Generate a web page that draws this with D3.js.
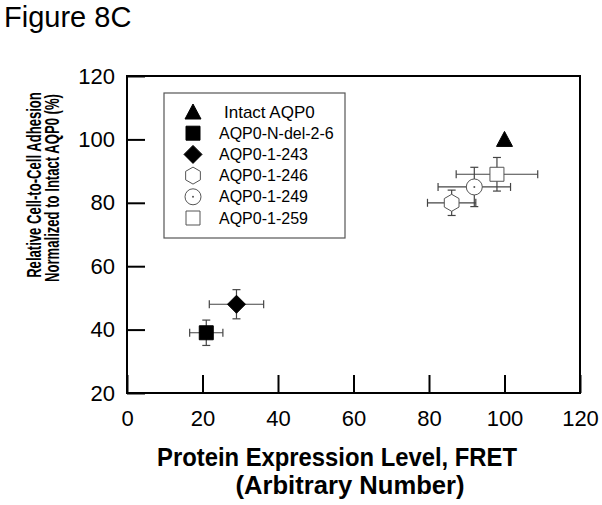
<!DOCTYPE html>
<html lang="en">
<head>
    <meta charset="UTF-8">
    <title>Figure 8C</title>
    <script src="https://d3js.org/d3.v7.min.js"></script>
    <style>
        body { margin: 0; background: #fff; }
        text { font-family: Arial, "Liberation Sans", sans-serif; fill: #000; }
    </style>
</head>
<body>
    <svg width="602" height="505"></svg>

    <script>
        // data
        const names = ["Intact AQP0", "AQP0-N-del-2-6", "AQP0-1-243", "AQP0-1-246", "AQP0-1-249", "AQP0-1-259"];
        const shapes = ["triangle", "square", "diamond", "hexagon", "circle", "openSquare"];
        const xVals = [100, 21, 29, 86, 92, 98];
        const yVals = [100, 39, 48, 80, 85, 89];
        const xErr = [0, 4.4, 7.2, 6.4, 9.6, 10.8];
        const yErr = [0, 4, 4.6, 4, 6.2, 5.3];
        const xTicks = [0, 20, 40, 60, 80, 100, 120];
        const yTicks = [20, 40, 60, 80, 100, 120];

        const svg = d3.select("svg");
        const x = d3.scaleLinear().domain([0, 120]).range([127, 580]);
        const y = d3.scaleLinear().domain([20, 120]).range([393, 76]);

        const points = names.map((n, i) => ({
            name: n, shape: shapes[i], x: xVals[i], y: yVals[i], ex: xErr[i], ey: yErr[i]
        }));

        svg.append("text")
            .attr("x", 4).attr("y", 27)
            .style("font-size", "29px")
            .text("Figure 8C");

        // axes, ticks pointing inward
        svg.append("g")
            .attr("transform", `translate(0,${y(20)})`)
            .call(d3.axisBottom(x).tickValues(xTicks).tickSizeInner(-18).tickSizeOuter(0).tickPadding(17))
            .call(g => g.select(".domain").remove())
            .call(g => g.selectAll("line").attr("stroke", "#000").attr("stroke-width", 2))
            .call(g => g.selectAll("text").style("font-size", "22px").attr("font-family", null));

        svg.append("g")
            .attr("transform", `translate(${x(0)},0)`)
            .call(d3.axisLeft(y).tickValues(yTicks).tickSizeInner(-18).tickSizeOuter(0).tickPadding(12))
            .call(g => g.select(".domain").remove())
            .call(g => g.selectAll("line").attr("stroke", "#000").attr("stroke-width", 2))
            .call(g => g.selectAll("text").style("font-size", "22px").attr("font-family", null));

        svg.append("rect")
            .attr("x", x(0)).attr("y", y(120))
            .attr("width", x(120) - x(0)).attr("height", y(20) - y(120))
            .attr("fill", "none").attr("stroke", "#000").attr("stroke-width", 2);

        // axis titles (the original lettering is condensed)
        const xTitle = svg.append("text")
            .attr("text-anchor", "middle")
            .style("font-size", "26px").style("font-weight", "bold");
        xTitle.append("tspan").attr("x", 337).attr("y", 466)
            .attr("textLength", 360).attr("lengthAdjust", "spacingAndGlyphs")
            .text("Protein Expression Level, FRET");
        xTitle.append("tspan").attr("x", 350).attr("y", 494)
            .attr("textLength", 229).attr("lengthAdjust", "spacingAndGlyphs")
            .text("(Arbitrary Number)");

        svg.append("text")
            .attr("transform", "translate(41,185) rotate(-90) scale(0.655,1)")
            .attr("text-anchor", "middle")
            .style("font-size", "20px").style("font-weight", "bold")
            .text("Relative Cell-to-Cell Adhesion");
        svg.append("text")
            .attr("transform", "translate(59,188) rotate(-90) scale(0.655,1)")
            .attr("text-anchor", "middle")
            .style("font-size", "20px").style("font-weight", "bold")
            .text("Normalized to Intact AQP0  (%)");

        // marker shapes
        function shapePath(s) {
            if (s === "triangle") return "M0,-8L8,7L-8,7Z";
            if (s === "square" || s === "openSquare") return "M-7,-7H7V7H-7Z";
            if (s === "diamond") return "M0,-9L9,0L0,9L-9,0Z";
            if (s === "hexagon") {
                const r = 8.5;
                return d3.range(6).map(k => {
                    const a = Math.PI / 3 * k + Math.PI / 6;
                    return (k ? "L" : "M") + (r * Math.cos(a)).toFixed(2) + "," + (r * Math.sin(a)).toFixed(2);
                }).join("") + "Z";
            }
            return null;
        }

        function drawMarker(g, s) {
            const filled = s === "triangle" || s === "square" || s === "diamond";
            if (s === "circle") {
                g.append("circle").attr("r", 8).attr("fill", "#fff").attr("stroke", "#555").attr("stroke-width", 1);
                g.append("circle").attr("r", 1).attr("fill", "#555");
            } else {
                g.append("path").attr("d", shapePath(s))
                    .attr("fill", filled ? "#000" : "#fff")
                    .attr("stroke", filled ? "#000" : "#555")
                    .attr("stroke-width", 1);
            }
        }

        // error bars
        const cap = 4;
        const bars = svg.append("g").attr("stroke", "#444").attr("stroke-width", 1.2)
            .selectAll("g").data(points.filter(d => d.ex > 0)).enter().append("g");
        bars.append("line")
            .attr("x1", d => x(d.x - d.ex)).attr("x2", d => x(d.x + d.ex))
            .attr("y1", d => y(d.y)).attr("y2", d => y(d.y));
        bars.append("line")
            .attr("x1", d => x(d.x)).attr("x2", d => x(d.x))
            .attr("y1", d => y(d.y - d.ey)).attr("y2", d => y(d.y + d.ey));
        bars.append("line")
            .attr("x1", d => x(d.x - d.ex)).attr("x2", d => x(d.x - d.ex))
            .attr("y1", d => y(d.y) - cap).attr("y2", d => y(d.y) + cap);
        bars.append("line")
            .attr("x1", d => x(d.x + d.ex)).attr("x2", d => x(d.x + d.ex))
            .attr("y1", d => y(d.y) - cap).attr("y2", d => y(d.y) + cap);
        bars.append("line")
            .attr("x1", d => x(d.x) - cap).attr("x2", d => x(d.x) + cap)
            .attr("y1", d => y(d.y + d.ey)).attr("y2", d => y(d.y + d.ey));
        bars.append("line")
            .attr("x1", d => x(d.x) - cap).attr("x2", d => x(d.x) + cap)
            .attr("y1", d => y(d.y - d.ey)).attr("y2", d => y(d.y - d.ey));

        // markers
        svg.append("g").selectAll("g").data(points).enter().append("g")
            .attr("transform", d => `translate(${x(d.x)},${y(d.y)})`)
            .each(function (d) { drawMarker(d3.select(this), d.shape); });

        // legend
        const legend = svg.append("g");
        legend.append("rect")
            .attr("x", 164).attr("y", 93).attr("width", 181).attr("height", 145)
            .attr("fill", "#fff").attr("stroke", "#555").attr("stroke-width", 1.2);
        const rows = legend.selectAll(".row").data(points).enter().append("g")
            .attr("class", "row")
            .attr("transform", (d, i) => `translate(193,${112 + i * 21.2})`);
        rows.each(function (d) { drawMarker(d3.select(this), d.shape); });
        rows.append("text")
            .attr("x", (d, i) => i === 0 ? 31 : 26)
            .attr("dy", "0.35em")
            .style("font-size", (d, i) => i === 0 ? "17px" : "16px")
            .text(d => d.name);
    </script>
</body>
</html>
